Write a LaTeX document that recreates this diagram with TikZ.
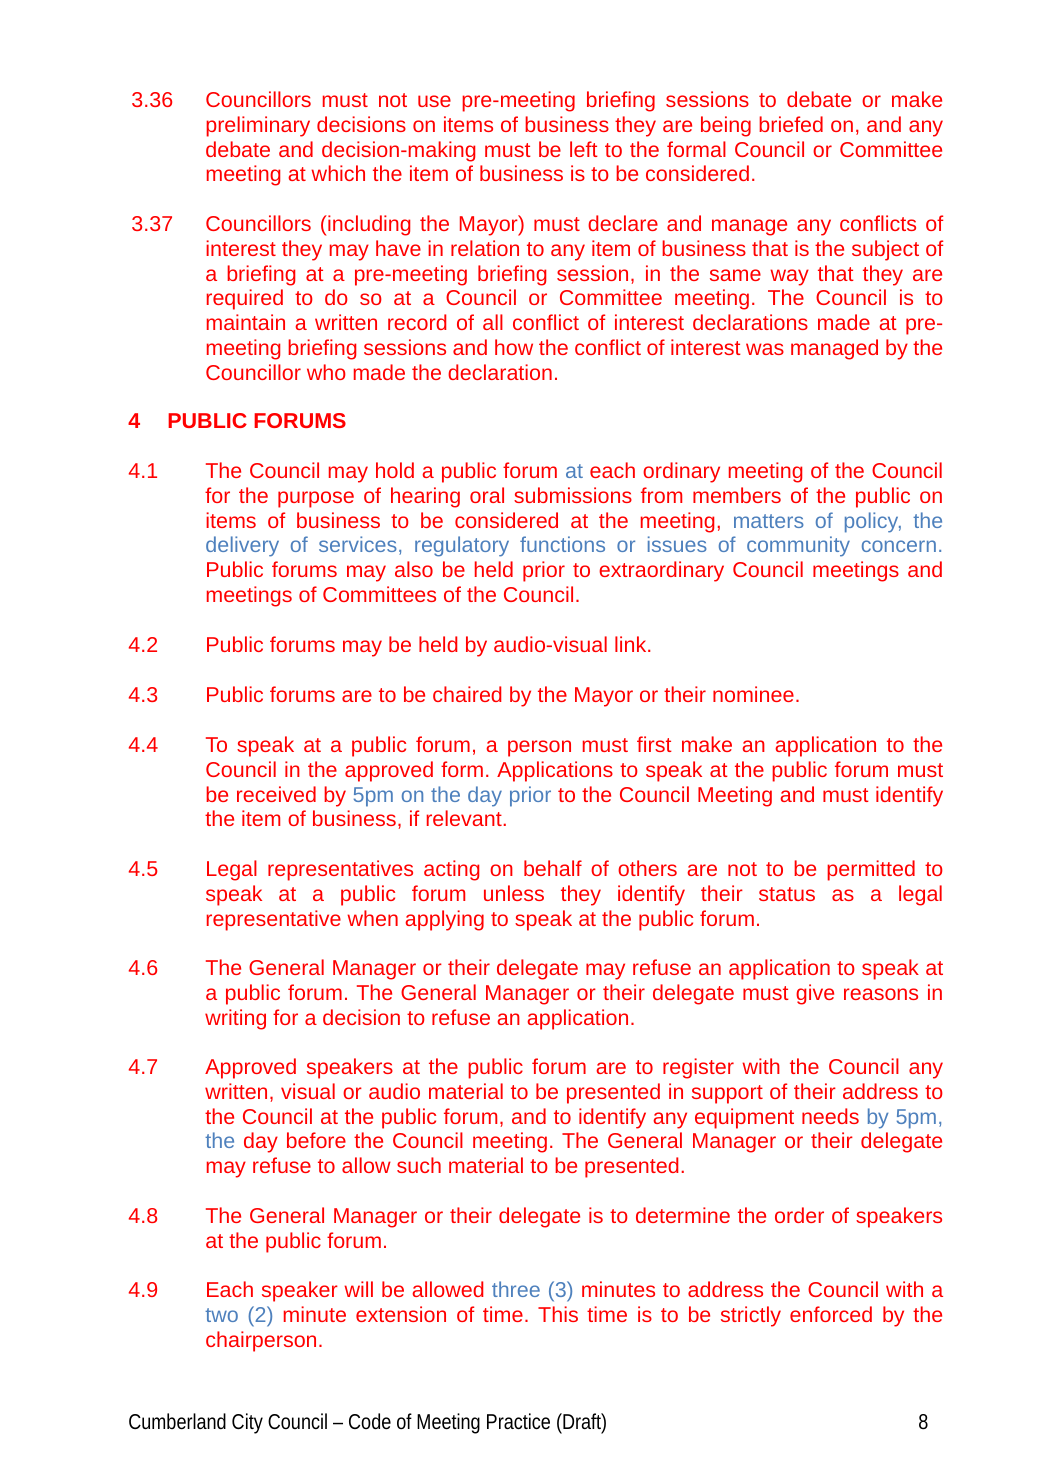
\documentclass[tikz,border=0pt]{standalone}
\usepackage{fontspec}
\setmainfont{Liberation Sans}
\newfontfamily\footfont[FakeStretch=0.84]{Liberation Sans}
\usepackage{tikz}
\definecolor{txtred}{RGB}{255,0,0}
\definecolor{txtblue}{RGB}{79,129,189}
\newcommand{\bl}[1]{\textcolor{txtblue}{#1}}
\hyphenpenalty=10000
\exhyphenpenalty=10000
\frenchspacing
\tikzstyle{num} = [anchor=base west, inner sep=0pt, text=txtred, font=\fontsize{12}{13.84}\selectfont]
\tikzstyle{para} = [anchor=base west, inner sep=0pt, text=txtred, text width=411.8pt, align=justify,
  font=\fontsize{12}{13.84}\selectfont]
\tikzstyle{foot} = [anchor=base west, inner sep=0pt, font=\footfont\fontsize{12}{14}\selectfont]

\begin{document}
\begin{tikzpicture}[x=0.558pt,y=-0.558pt]
	\useasboundingbox[fill=white] (0,0) rectangle (1041,1484);
	% section 3 tail
	\node[num] (n336) at (131,107.5) {3.36};
	\node[para] (p336) at (205,107.5) {Councillors must not use pre-meeting briefing sessions to debate or make\linebreak
	preliminary decisions on items of business they are being briefed on, and any\linebreak
	debate and decision-making must be left to the formal Council or Committee\linebreak
	meeting at which the item of business is to be considered.};
	\node[num] (n337) at (131,231.5) {3.37};
	\node[para] (p337) at (205,231.5) {Councillors (including the Mayor) must declare and manage any conflicts of\linebreak
	interest they may have in relation to any item of business that is the subject of\linebreak
	a briefing at a pre-meeting briefing session, in the same way that they are\linebreak
	required to do so at a Council or Committee meeting. The Council is to\linebreak
	maintain a written record of all conflict of interest declarations made at pre-\linebreak
	meeting briefing sessions and how the conflict of interest was managed by the\linebreak
	Councillor who made the declaration.};
	% heading
	\node[num] (h4) at (128,428) {\bfseries 4};
	\node[num] (h4t) at (167,428) {\bfseries PUBLIC FORUMS};
	% section 4
	\node[num] (n41) at (128,478.5) {4.1};
	\node[para] (p41) at (205,478.5) {The Council may hold a public forum \bl{at} each ordinary meeting of the Council\linebreak
	for the purpose of hearing oral submissions from members of the public on\linebreak
	items of business to be considered at the meeting, \bl{matters of policy, the}\linebreak
	\bl{delivery of services, regulatory functions or issues of community concern.}\linebreak
	Public forums may also be held prior to extraordinary Council meetings and\linebreak
	meetings of Committees of the Council.};
	\node[num] (n42) at (128,652.5) {4.2};
	\node[para] (p42) at (205,652.5) {Public forums may be held by audio-visual link.};
	\node[num] (n43) at (128,702.5) {4.3};
	\node[para] (p43) at (205,702.5) {Public forums are to be chaired by the Mayor or their nominee.};
	\node[num] (n44) at (128,752.5) {4.4};
	\node[para] (p44) at (205,752.5) {To speak at a public forum, a person must first make an application to the\linebreak
	Council in the approved form. Applications to speak at the public forum must\linebreak
	be received by \bl{5pm on the day prior} to the Council Meeting and must identify\linebreak
	the item of business, if relevant.};
	\node[num] (n45) at (128,876.5) {4.5};
	\node[para] (p45) at (205,876.5) {Legal representatives acting on behalf of others are not to be permitted to\linebreak
	speak at a public forum unless they identify their status as a legal\linebreak
	representative when applying to speak at the public forum.};
	\node[num] (n46) at (128,975.5) {4.6};
	\node[para] (p46) at (205,975.5) {The General Manager or their delegate may refuse an application to speak at\linebreak
	a public forum. The General Manager or their delegate must give reasons in\linebreak
	writing for a decision to refuse an application.};
	\node[num] (n47) at (128,1074.5) {4.7};
	\node[para] (p47) at (205,1074.5) {Approved speakers at the public forum are to register with the Council any\linebreak
	written, visual or audio material to be presented in support of their address to\linebreak
	the Council at the public forum, and to identify any equipment needs \bl{by 5pm,}\linebreak
	\bl{the} day before the Council meeting. The General Manager or their delegate\linebreak
	may refuse to allow such material to be presented.};
	\node[num] (n48) at (128,1223.5) {4.8};
	\node[para] (p48) at (205,1223.5) {The General Manager or their delegate is to determine the order of speakers\linebreak
	at the public forum.};
	\node[num] (n49) at (128,1297.5) {4.9};
	\node[para] (p49) at (205,1297.5) {Each speaker will be allowed \bl{three (3)} minutes to address the Council with a\linebreak
	\bl{two (2)} minute extension of time. This time is to be strictly enforced by the\linebreak
	chairperson.};
	% footer
	\node[foot] (ftxt) at (128,1429.5) {Cumberland City Council – Code of Meeting Practice (Draft)};
	\node[foot] (fpage) at (918,1429.5) {8};
\end{tikzpicture}
\end{document}
